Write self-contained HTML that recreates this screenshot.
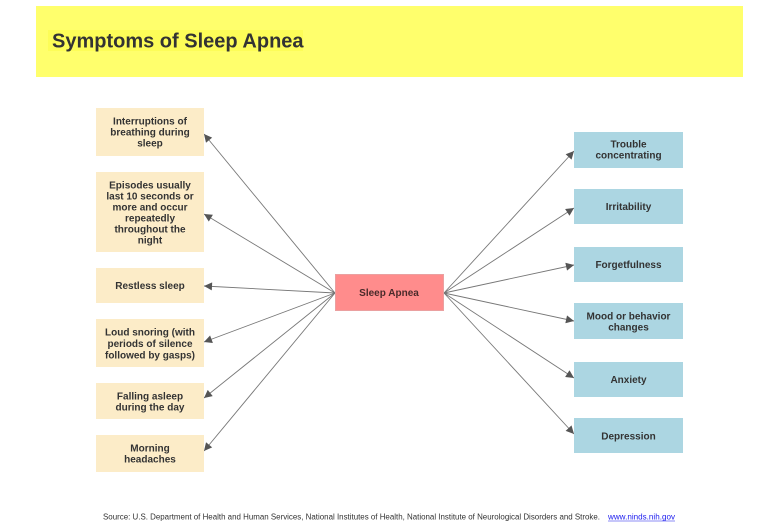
<!DOCTYPE html>
<html><head><meta charset="utf-8"><style>
html,body{margin:0;padding:0;background:#fff;width:780px;height:530px;overflow:hidden}
svg{display:block}
text{font-family:"Liberation Sans",Arial,sans-serif}
</style></head><body>
<svg width="780" height="530" viewBox="0 0 780 530" xmlns="http://www.w3.org/2000/svg">
<defs>
<marker id="ah" viewBox="0 0 10 10" refX="10" refY="5" markerWidth="9" markerHeight="8" markerUnits="userSpaceOnUse" orient="auto">
<path d="M0,0 L10,5 L0,10 z" fill="#555"/>
</marker>
</defs>
<rect x="36" y="6" width="707" height="71" fill="#ffff6c"/>
<rect x="48" y="30" width="255" height="21" fill="#fdfd58"/>
<text x="52" y="47.5" font-size="20" font-weight="bold" fill="#333">Symptoms of Sleep Apnea</text>

<g stroke="#777" stroke-width="0.9" fill="none">
<line x1="335" y1="293" x2="204" y2="134" marker-end="url(#ah)"/>
<line x1="335" y1="293" x2="204" y2="214" marker-end="url(#ah)"/>
<line x1="335" y1="293" x2="204" y2="286" marker-end="url(#ah)"/>
<line x1="335" y1="293" x2="204" y2="342" marker-end="url(#ah)"/>
<line x1="335" y1="293" x2="204" y2="398" marker-end="url(#ah)"/>
<line x1="335" y1="293" x2="204" y2="451" marker-end="url(#ah)"/>
<line x1="444" y1="293" x2="574" y2="151" marker-end="url(#ah)"/>
<line x1="444" y1="293" x2="574" y2="208" marker-end="url(#ah)"/>
<line x1="444" y1="293" x2="574" y2="265" marker-end="url(#ah)"/>
<line x1="444" y1="293" x2="574" y2="321" marker-end="url(#ah)"/>
<line x1="444" y1="293" x2="574" y2="378" marker-end="url(#ah)"/>
<line x1="444" y1="293" x2="574" y2="434" marker-end="url(#ah)"/>
</g>

<g fill="#fcecc8">
<rect x="96" y="108" width="108" height="48"/>
<rect x="96" y="172" width="108" height="80"/>
<rect x="96" y="268" width="108" height="35"/>
<rect x="96" y="319" width="108" height="48"/>
<rect x="96" y="383" width="108" height="36"/>
<rect x="96" y="435" width="108" height="37"/>
</g>
<g fill="#acd6e2">
<rect x="574" y="132" width="109" height="36"/>
<rect x="574" y="189" width="109" height="35"/>
<rect x="574" y="247" width="109" height="35"/>
<rect x="574" y="303" width="109" height="36"/>
<rect x="574" y="362" width="109" height="35"/>
<rect x="574" y="418" width="109" height="35"/>
</g>
<rect x="335.5" y="274.5" width="108" height="36" fill="#ff8c8c" stroke="#eaa0a0" stroke-width="1"/>

<g font-size="10" font-weight="bold" fill="#333" text-anchor="middle">
<text x="150" y="124.5">Interruptions of</text>
<text x="150" y="135.5">breathing during</text>
<text x="150" y="146.5">sleep</text>
<text x="150" y="188.5">Episodes usually</text>
<text x="150" y="199.5">last 10 seconds or</text>
<text x="150" y="210.5">more and occur</text>
<text x="150" y="221.5">repeatedly</text>
<text x="150" y="232.5">throughout the</text>
<text x="150" y="243.5">night</text>
<text x="150" y="289">Restless sleep</text>
<text x="150" y="335.5">Loud snoring (with</text>
<text x="150" y="347">periods of silence</text>
<text x="150" y="358.5">followed by gasps)</text>
<text x="150" y="399.5">Falling asleep</text>
<text x="150" y="410.5">during the day</text>
<text x="150" y="451.5">Morning</text>
<text x="150" y="462.5">headaches</text>
<text x="389" y="296" fill="#4a2a2a">Sleep Apnea</text>
<text x="628.5" y="147.5">Trouble</text>
<text x="628.5" y="158.5">concentrating</text>
<text x="628.5" y="210">Irritability</text>
<text x="628.5" y="268">Forgetfulness</text>
<text x="628.5" y="319.5">Mood or behavior</text>
<text x="628.5" y="330.5">changes</text>
<text x="628.5" y="383">Anxiety</text>
<text x="628.5" y="439.5">Depression</text>
</g>

<text x="103" y="519.5" font-size="7.9" fill="#333" textLength="497" lengthAdjust="spacingAndGlyphs">Source: U.S. Department of Health and Human Services, National Institutes of Health, National Institute of Neurological Disorders and Stroke.</text>
<text x="608" y="519.5" font-size="7.9" fill="#1a1aee" textLength="67" lengthAdjust="spacingAndGlyphs">www.ninds.nih.gov</text>
<line x1="608" y1="521" x2="675" y2="521" stroke="#1a1aee" stroke-width="0.6"/>
</svg>
</body></html>
